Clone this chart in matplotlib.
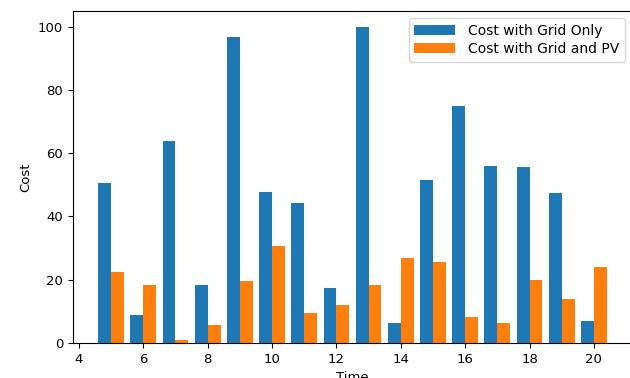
import numpy as np
import matplotlib.pyplot as plt

time_steps = list(range(5, 21))
cost_grid_only = [50.5, 8.8, 64.0, 18.4, 96.8, 47.6, 44.2, 17.4,
                  99.8, 6.3, 51.6, 74.9, 56.1, 55.6, 47.4, 6.8]
cost_grid_pv = [22.3, 18.4, 0.8, 5.7, 19.5, 30.8, 9.4, 11.9,
                18.4, 26.8, 25.5, 8.2, 6.3, 19.8, 13.9, 23.9]

plt.rcParams['font.size'] = 9.5

fig = plt.figure(figsize=(6.3, 3.78), dpi=100)
ax = fig.add_axes([0.1155, 0.0926, 0.888, 0.877])

x = np.array(time_steps)
w = 0.4
ax.bar(x - w / 2, cost_grid_only, w, label='Cost with Grid Only')
ax.bar(x + w / 2, cost_grid_pv, w, label='Cost with Grid and PV')

ax.set_xlabel('Time')
ax.set_ylabel('Cost')
ax.legend(loc='upper right', fontsize=10, handlelength=2.9,
          handletextpad=1.0, borderaxespad=0.5, labelspacing=0.3)

plt.savefig('out.png')
